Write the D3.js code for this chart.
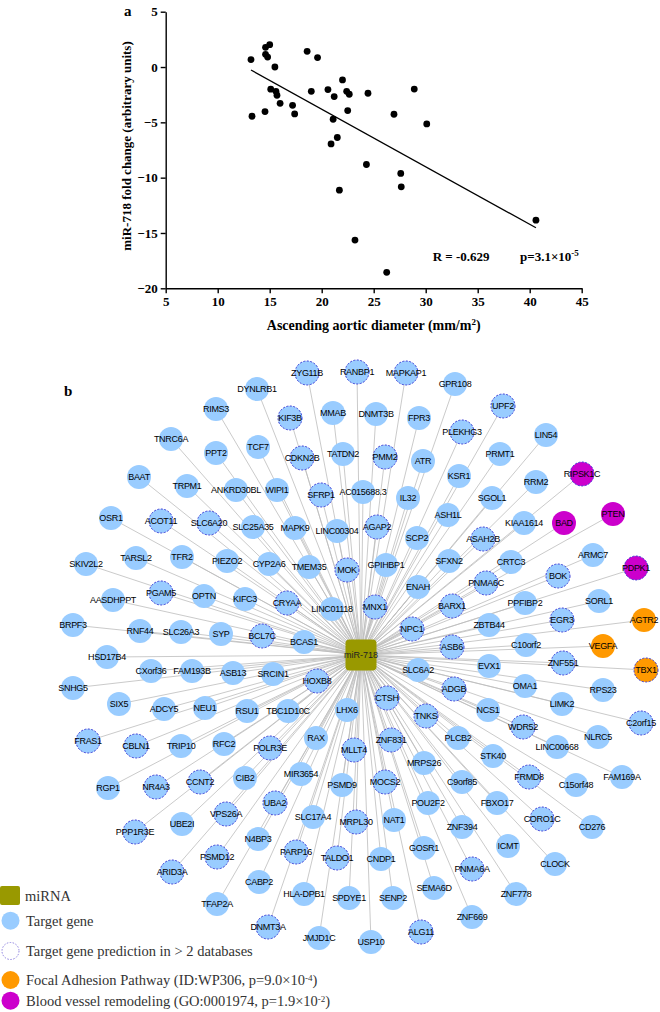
<!DOCTYPE html>
<html><head><meta charset="utf-8">
<script src="https://cdn.jsdelivr.net/npm/d3@7"></script>
<style>body{margin:0;background:#fff}svg{display:block}</style>
</head><body>
<svg id="chart" width="660" height="1012"></svg>
<script>
// ---------- Panel a data ----------
const aorticDiameter = [13.2,13.3,14.6,15.0,14.6,14.8,15.5,15.1,15.6,15.7,16.0,14.55,17.2,17.4,18.6,19.6,19.0,20.6,21.2,22.0,22.4,22.65,22.5,24.45,21.1,21.5,20.9,24.3,21.7,28.9,26.95,30.1,27.6,27.65,23.2,40.6,26.25];
const foldChange = [0.67,-4.45,1.78,2.02,1.15,0.9,0.0,-2.0,-2.2,-2.55,-3.28,-4.03,-3.46,-4.24,1.42,0.85,-2.2,-2.04,-2.67,-1.17,-2.2,-2.46,-3.94,-2.37,-4.72,-6.37,-6.95,-8.81,-11.13,-1.99,-4.27,-5.14,-9.62,-10.83,-15.64,-13.84,-18.56];
const fitX = [13.2, 40.6];
const fitY = [-0.27, -14.53];
const xTicks = [5,10,15,20,25,30,35,40,45];
const yTicks = [5,0,-5,-10,-15,-20];

// ---------- Panel b data (layout coordinates relative to hub) ----------
const hubName = "miR-718";
const targetLayout = [
["ZYG11B",-54,-282],["RANBP1",-4,-283],["MAPKAP1",45,-282],["DYNLRB1",-104,-266],["GPR108",94,-271],
["KIF3B",-71,-237],["MMAB",-28,-242],["DNMT3B",15,-241],["RIMS3",-145,-246],["FPR3",58,-237],
["UPF2",142,-249],["PLEKHG3",101,-223],["LIN54",185,-220],["TNRC6A",-190,-216],["PPT2",-145,-202],
["TCF7",-103,-208],["CDKN2B",-59,-197],["TATDN2",-18,-201],["PMM2",24,-198],["ATR",62,-194],
["PRMT1",139,-201],["BAAT",-222,-178],["TRPM1",-174,-169],["ANKRD30BL",-125,-165],["WIPI1",-84,-165],
["SFRP1",-40,-160],["AC015688.3",2,-163],["IL32",47,-157],["KSR1",98,-179],["SGOL1",131,-157],
["RRM2",175,-173],["RIPSK1C",221,-181],["OSR1",-250,-137],["ACOT11",-200,-134],["SLC6A20",-152,-132],
["SLC25A35",-108,-128],["MAPK9",-66,-127],["LINC00304",-24,-124],["AGAP2",16,-128],["ASH1L",87,-140],
["ASAH2B",122,-116],["KIAA1614",163,-132],["BAD",203,-132],["PTEN",252,-141],["SCP2",56,-117],
["SKIV2L2",-275,-91],["TARSL2",-225,-97],["TFR2",-179,-98],["PIEZO2",-134,-94],["CYP2A6",-92,-91],
["TMEM35",-52,-88],["MOK",-14,-85],["GPIHBP1",25,-90],["SFXN2",88,-94],["CRTC3",150,-93],
["ARMC7",232,-100],["PDPK1",275,-87],["AASDHPPT",-248,-55],["PGAM5",-200,-62],["OPTN",-157,-59],
["KIFC3",-116,-56],["CRYAA",-74,-52],["LINC01118",-29,-46],["MNX1",14,-48],["ENAH",57,-68],
["PNMA6C",125,-72],["BOK",197,-79],["BRPF3",-288,-30],["RNF44",-221,-24],["SLC26A3",-180,-23],
["SYP",-140,-21],["BCL7C",-99,-19],["BCAS1",-57,-13],["NPC1",51,-26],["BARX1",91,-49],
["PPFIBP2",164,-52],["SORL1",238,-54],["EGR3",201,-35],["ZBTB44",128,-30],["AGTR2",283,-35],
["HSD17B4",-254,2],["CXorf36",-210,16],["FAM193B",-169,16],["ASB13",-128,18],["SRCIN1",-88,19],
["ASB6",91,-8],["C10orf2",165,-10],["VEGFA",242,-9],["ZNF551",202,8],["TBX1",285,15],
["SLC6A2",57,15],["EVX1",128,11],["OMA1",164,31],["SNHG5",-288,33],["SIX5",-242,49],
["ADCY5",-197,54],["NEU1",-156,53],["RSU1",-114,56],["TBC1D10C",-73,56],["HOXB8",-44,26],
["LHX6",-14,55],["CTSH",26,43],["ADGB",93,34],["RPS23",242,35],["LIMK2",201,49],
["NCS1",127,55],["TNKS",65,61],["WDR52",162,72],["C2orf15",280,68],["FRAS1",-273,86],
["CBLN1",-225,91],["TRIP10",-180,91],["RFC2",-137,89],["POLR3E",-91,93],["RAX",-45,83],
["ZNF831",30,85],["PLCB2",97,83],["LINC00668",196,92],["NLRC5",237,82],["RGP1",-253,133],
["NR4A3",-205,132],["CCNT2",-161,127],["CIB2",-116,123],["MIR3654",-60,119],["MLLT4",-7,95],
["MRPS26",63,108],["STK40",132,101],["FRMD8",168,122],["C15orf48",215,130],["FAM169A",261,122],
["UBA2",-86,148],["PSMD9",-19,130],["MOCS2",24,127],["C9orf85",101,127],["FBXO17",136,148],
["VPS26A",-135,159],["SLC17A4",-48,162],["MRPL30",-5,167],["POU2F2",67,148],["CORO1C",181,164],
["CD276",231,172],["PPP1R3E",-226,177],["UBE2I",-179,169],["N4BP3",-103,184],["NAT1",33,165],
["ZNF394",101,172],["ICMT",147,191],["ARID3A",-189,217],["PSMD12",-144,202],["PARP16",-65,197],
["TALDO1",-24,203],["CNDP1",20,204],["GOSR1",63,193],["PNMA6A",111,214],["CLOCK",194,209],
["CABP2",-102,227],["HLA-DPB1",-57,239],["SEMA6D",73,233],["ZNF778",155,239],["TFAP2A",-144,249],
["SPDYE1",-12,243],["SENP2",32,243],["ZNF669",111,262],["DNMT3A",-93,272],["JMJD1C",-42,283],
["USP10",10,287],["ALG11",60,277]
];
const dashedTargets = ["ZYG11B","RANBP1","MAPKAP1","KIF3B","UPF2","PLEKHG3","CDKN2B","PMM2","SFRP1","RIPSK1C",
"ACOT11","SLC6A20","AGAP2","ASAH2B","MOK","PDPK1","PGAM5","CRYAA","MNX1","PNMA6C","BOK","BCL7C","NPC1","BARX1",
"EGR3","ASB6","ZNF551","TBX1","HOXB8","CTSH","ADGB","TNKS","WDR52","C2orf15","FRAS1","CBLN1","POLR3E","ZNF831",
"NR4A3","CCNT2","MLLT4","FRMD8","UBA2","MOCS2","VPS26A","MRPL30","CORO1C","PPP1R3E","ARID3A","PSMD12","PARP16",
"TALDO1","PNMA6A","DNMT3A","ALG11"];
const focalAdhesion = ["AGTR2","VEGFA","TBX1"];
const bloodVessel = ["RIPSK1C","BAD","PTEN","PDPK1"];
const legendItems = ["miRNA","Target gene","Target gene prediction in > 2 databases","Focal Adhesion Pathway","Blood vessel remodeling"];

// ---------- Drawing ----------
const svg = d3.select("#chart");
const serif = "'Times New Roman', 'Liberation Serif', serif";
const sans = "'Liberation Sans', Arial, Helvetica, sans-serif";

// Panel a
const x = d3.scaleLinear().domain([5,45]).range([165.7,581.7]);
const y = d3.scaleLinear().domain([-20,5]).range([288.3,11.7]);
const gA = svg.append("g");

const xAxis = gA.append("g").attr("transform",`translate(0,${y(-20)})`)
  .call(d3.axisBottom(x).tickValues(xTicks).tickSize(5).tickSizeOuter(0).tickPadding(3));
const yAxis = gA.append("g").attr("transform",`translate(${x(5)},0)`)
  .call(d3.axisLeft(y).tickValues(yTicks).tickSize(5).tickSizeOuter(0).tickPadding(3));
[xAxis,yAxis].forEach(a=>{
  a.selectAll("path,line").attr("stroke","#000").attr("stroke-width",1.4);
  a.selectAll("text").attr("font-family",serif).attr("font-weight","bold").attr("font-size",13).attr("fill","#000");
});

gA.append("line")
  .attr("x1",x(fitX[0])).attr("y1",y(fitY[0])).attr("x2",x(fitX[1])).attr("y2",y(fitY[1]))
  .attr("stroke","#000").attr("stroke-width",1.3);

gA.selectAll("circle.pt").data(d3.range(aorticDiameter.length)).join("circle")
  .attr("class","pt").attr("cx",i=>x(aorticDiameter[i])).attr("cy",i=>y(foldChange[i]))
  .attr("r",3.4).attr("fill","#000");

gA.append("text").attr("x",124).attr("y",16).attr("font-family",serif).attr("font-weight","bold")
  .attr("font-size",15).text("a");

const xt = gA.append("text").attr("x",373.7).attr("y",330).attr("text-anchor","middle")
  .attr("font-family",serif).attr("font-weight","bold").attr("font-size",14);
xt.append("tspan").text("Ascending aortic diameter (mm/m");
xt.append("tspan").attr("dy",-5).attr("font-size",9).text("2");
xt.append("tspan").attr("dy",5).text(")");

gA.append("text").attr("transform","translate(131,146) rotate(-90)").attr("text-anchor","middle")
  .attr("font-family",serif).attr("font-weight","bold").attr("font-size",13)
  .text("miR-718 fold change (arbitrary units)");

gA.append("text").attr("x",432.7).attr("y",261).attr("font-family",serif).attr("font-weight","bold")
  .attr("font-size",13).text("R = -0.629");
const pt = gA.append("text").attr("x",520).attr("y",261).attr("font-family",serif).attr("font-weight","bold")
  .attr("font-size",13);
pt.append("tspan").text("p=3.1×10");
pt.append("tspan").attr("dy",-5).attr("font-size",9).text("-5");

// Panel b
const nx = d3.scaleLinear().domain([-300,300]).range([61,661]);
const ny = d3.scaleLinear().domain([-300,300]).range([355,955]);
const gB = svg.append("g");
const R = 12;
const colorOf = n => focalAdhesion.includes(n) ? "#ff9900" : bloodVessel.includes(n) ? "#cc00cc" : "#99ccff";

gB.append("text").attr("x",64).attr("y",396).attr("font-family",serif).attr("font-weight","bold")
  .attr("font-size",15).text("b");

gB.append("g").selectAll("line").data(targetLayout).join("line")
  .attr("x1",nx(0)).attr("y1",ny(0)).attr("x2",d=>nx(d[1])).attr("y2",d=>ny(d[2]))
  .attr("stroke","#bdbdbd").attr("stroke-width",0.8);

const nodes = gB.append("g").selectAll("g").data(targetLayout).join("g")
  .attr("transform",d=>`translate(${nx(d[1])},${ny(d[2])})`);
nodes.append("circle").attr("r",R).attr("fill",d=>colorOf(d[0]))
  .attr("stroke",d=>dashedTargets.includes(d[0]) ? "#3d3dd6" : "none")
  .attr("stroke-width",1).attr("stroke-dasharray","2,1.5");
nodes.append("text").attr("text-anchor","middle").attr("dy","0.35em")
  .attr("font-family",sans).attr("font-size",9).attr("letter-spacing",-0.3).attr("fill","#000")
  .text(d=>d[0]);

const hub = gB.append("g").attr("transform",`translate(${nx(0)},${ny(0)})`);
hub.append("rect").attr("x",-15.5).attr("y",-15.5).attr("width",31).attr("height",31).attr("rx",4)
  .attr("fill","#999900");
hub.append("text").attr("text-anchor","middle").attr("dy","0.35em").attr("font-family",sans)
  .attr("font-size",9).attr("fill","#222").text(hubName);

// Legend
const lg = svg.append("g").attr("font-family",serif).attr("font-size",14.5).attr("fill","#333");
const ly = [895.5, 920.7, 951, 980, 1000.7];
lg.append("rect").attr("x",0).attr("y",ly[0]-9.5).attr("width",20).attr("height",19).attr("rx",2).attr("fill","#999900");
lg.append("circle").attr("cx",10.5).attr("cy",ly[1]).attr("r",9).attr("fill","#99ccff");
lg.append("circle").attr("cx",10.5).attr("cy",ly[2]).attr("r",8.5).attr("fill","none")
  .attr("stroke","#8c80e0").attr("stroke-width",1).attr("stroke-dasharray","1.5,1.5");
lg.append("circle").attr("cx",10.5).attr("cy",ly[3]).attr("r",9).attr("fill","#ff9900");
lg.append("circle").attr("cx",10.5).attr("cy",ly[4]).attr("r",9).attr("fill","#cc00cc");
lg.append("text").attr("x",25).attr("y",ly[0]).attr("dy","0.35em").text(legendItems[0]);
lg.append("text").attr("x",26).attr("y",ly[1]).attr("dy","0.35em").text(legendItems[1]);
lg.append("text").attr("x",26).attr("y",ly[2]).attr("dy","0.35em").text(legendItems[2]);
const l3 = lg.append("text").attr("x",26).attr("y",ly[3]).attr("dy","0.35em");
l3.append("tspan").text(legendItems[3] + " (ID:WP306, p=9.0×10");
l3.append("tspan").attr("dy",-4).attr("font-size",9).text("-4");
l3.append("tspan").attr("dy",4).text(")");
const l4 = lg.append("text").attr("x",26).attr("y",ly[4]).attr("dy","0.35em");
l4.append("tspan").text(legendItems[4] + " (GO:0001974, p=1.9×10");
l4.append("tspan").attr("dy",-4).attr("font-size",9).text("-2");
l4.append("tspan").attr("dy",4).text(")");
</script>
</body></html>
